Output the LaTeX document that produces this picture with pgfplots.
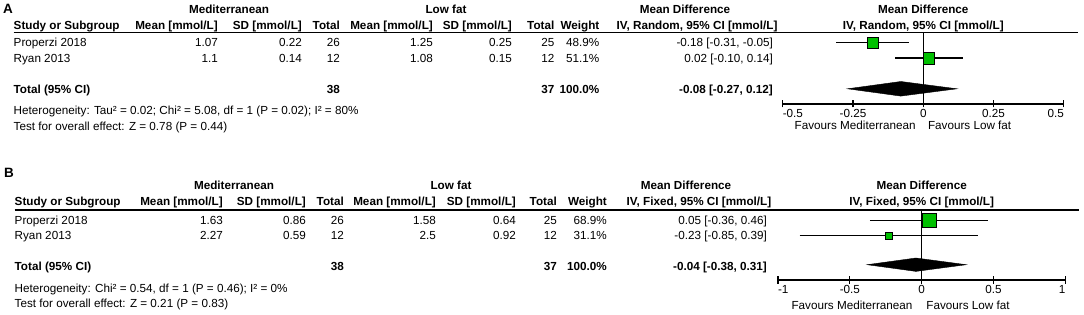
\documentclass[border=0pt]{standalone}
\usepackage{pgfplots}
\pgfplotsset{compat=1.18}
\usepackage{fontspec}
\setmainfont{Liberation Sans}
\definecolor{rmgreen}{RGB}{0,192,0}
\newcommand\fs{\fontsize{11.7}{14}\selectfont}
\newcommand\tl[3]{\node[anchor=base west,inner sep=0pt] at (#1,-#2) {#3};}
\newcommand\tr[3]{\node[anchor=base east,inner sep=0pt] at (#1,-#2) {#3};}
\newcommand\tc[3]{\node[anchor=base,inner sep=0pt] at (#1,-#2) {#3};}
\pgfplotsset{
  forest/.style={
    scale only axis, anchor=south west, clip=false,
    axis x line=bottom, axis y line=none,
    axis line style={-, line width=1.2pt, black},
    tick align=center, major tick length=7pt,
    x tick style={line width=1.2pt, black},
    xticklabel style={font=\fs, inner sep=0pt, anchor=north, yshift=-2pt},
  },
  ci/.style={black, line width=1.2pt, forget plot},
}
\begin{document}
\begin{tikzpicture}[x=1pt, y=1pt, font=\fs]
\useasboundingbox (0,0) rectangle (1084,-315);

% ================= Panel A =================
\node[anchor=base west,inner sep=0pt,font=\fontsize{13.5}{15}\selectfont\bfseries] at (3,-13.6) {A};
\begin{scope}[font=\fs\bfseries]
\tc{229}{14}{Mediterranean}
\tc{446}{14}{Low fat}
\tc{685}{14}{Mean Difference}
\tc{923.3}{14}{Mean Difference}
\tl{13.5}{29.5}{Study or Subgroup}
\tr{218}{29.5}{Mean [mmol/L]}
\tr{302}{29.5}{SD [mmol/L]}
\tr{340}{29.5}{Total}
\tr{433}{29.5}{Mean [mmol/L]}
\tr{512}{29.5}{SD [mmol/L]}
\tr{554.5}{29.5}{Total}
\tr{599.5}{29.5}{Weight}
\tc{697}{29.5}{IV, Random, 95\% CI [mmol/L]}
\tc{923.3}{29.5}{IV, Random, 95\% CI [mmol/L]}
\end{scope}
\draw[line width=1.3pt] (13.5,-32.5) -- (1078,-32.5);
\tl{13.5}{47}{Properzi 2018}
\tr{218}{47}{1.07}
\tr{302}{47}{0.22}
\tr{340}{47}{26}
\tr{433}{47}{1.25}
\tr{512}{47}{0.25}
\tr{554.5}{47}{25}
\tr{599.5}{47}{48.9\%}
\tr{773}{47}{-0.18 [-0.31, -0.05]}
\tl{13.5}{62.5}{Ryan 2013}
\tr{218}{62.5}{1.1}
\tr{302}{62.5}{0.14}
\tr{340}{62.5}{12}
\tr{433}{62.5}{1.08}
\tr{512}{62.5}{0.15}
\tr{554.5}{62.5}{12}
\tr{599.5}{62.5}{51.1\%}
\tr{773}{62.5}{0.02 [-0.10, 0.14]}
\begin{scope}[font=\fs\bfseries]
\tl{13.5}{94}{Total (95\% CI)}
\tr{340}{94}{38}
\tr{554.5}{94}{37}
\tr{599.5}{94}{100.0\%}
\tr{773}{94}{-0.08 [-0.27, 0.12]}
\end{scope}
\tl{13.5}{115}{Heterogeneity: Tau² = 0.02; Chi² = 5.08, df = 1 (P = 0.02); I² = 80\%}
\tl{13.5}{130.8}{Test for overall effect: Z = 0.78 (P = 0.44)}
\tr{915.8}{130}{Favours Mediterranean}
\tl{927.8}{130}{Favours Low fat}

\begin{axis}[forest,
  at={(782.8pt,-104pt)}, width=281pt, height=71.5pt,
  xmin=-0.5, xmax=0.5, ymin=-104, ymax=-32.5,
  xtick={-0.5,-0.25,0,0.25,0.5},
  xticklabels={\rlap{-0.5},-0.25,0,0.25,\llap{0.5}},
]
\addplot[ci] coordinates {(0,-32.5) (0,-104)};
\addplot[ci] coordinates {(-0.31,-42.5) (-0.05,-42.5)};
\addplot[ci] coordinates {(-0.10,-58) (0.14,-58)};
\addplot[only marks, mark=square*, mark size=5.5pt, mark options={draw=none, fill=rmgreen}] coordinates {(-0.18,-42.5)};
\addplot[only marks, mark=square*, mark size=5.75pt, mark options={draw=none, fill=rmgreen}] coordinates {(0.02,-58)};
\addplot[fill=black, draw=black, line width=0.4pt] coordinates {(-0.27,-88.8) (-0.08,-81.5) (0.12,-88.8) (-0.08,-96.1)} -- cycle;
\end{axis}

% ================= Panel B =================
\node[anchor=base west,inner sep=0pt,font=\fontsize{13.5}{15}\selectfont\bfseries] at (4,-177.3) {B};
\begin{scope}[font=\fs\bfseries]
\tc{234}{189.3}{Mediterranean}
\tc{451}{189.3}{Low fat}
\tc{686}{189.3}{Mean Difference}
\tc{921.7}{189.3}{Mean Difference}
\tl{14.5}{205.8}{Study or Subgroup}
\tr{223}{205.8}{Mean [mmol/L]}
\tr{306}{205.8}{SD [mmol/L]}
\tr{344}{205.8}{Total}
\tr{436}{205.8}{Mean [mmol/L]}
\tr{516}{205.8}{SD [mmol/L]}
\tr{557}{205.8}{Total}
\tr{607}{205.8}{Weight}
\tc{699}{205.8}{IV, Fixed, 95\% CI [mmol/L]}
\tc{921.7}{205.8}{IV, Fixed, 95\% CI [mmol/L]}
\end{scope}
\draw[line width=1.3pt] (14.5,-210) -- (1079,-210);
\tl{14.5}{224.5}{Properzi 2018}
\tr{223}{224.5}{1.63}
\tr{306}{224.5}{0.86}
\tr{344}{224.5}{26}
\tr{436}{224.5}{1.58}
\tr{516}{224.5}{0.64}
\tr{557}{224.5}{25}
\tr{607}{224.5}{68.9\%}
\tr{767}{224.5}{0.05 [-0.36, 0.46]}
\tl{14.5}{240}{Ryan 2013}
\tr{223}{240}{2.27}
\tr{306}{240}{0.59}
\tr{344}{240}{12}
\tr{436}{240}{2.5}
\tr{516}{240}{0.92}
\tr{557}{240}{12}
\tr{607}{240}{31.1\%}
\tr{767}{240}{-0.23 [-0.85, 0.39]}
\begin{scope}[font=\fs\bfseries]
\tl{14.5}{270}{Total (95\% CI)}
\tr{344}{270}{38}
\tr{557}{270}{37}
\tr{607}{270}{100.0\%}
\tr{767}{270}{-0.04 [-0.38, 0.31]}
\end{scope}
\tl{14.5}{292}{Heterogeneity: Chi² = 0.54, df = 1 (P = 0.46); I² = 0\%}
\tl{14.5}{307.5}{Test for overall effect: Z = 0.21 (P = 0.83)}
\tr{912.7}{309}{Favours Mediterranean}
\tl{926.2}{309}{Favours Low fat}

\begin{axis}[forest,
  at={(778pt,-280pt)}, width=287.4pt, height=70pt,
  xmin=-1, xmax=1, ymin=-280, ymax=-210,
  xtick={-1,-0.5,0,0.5,1},
  xticklabels={\rlap{-1},-0.5,0,0.5,\llap{1}},
]
\addplot[ci] coordinates {(0,-210) (0,-280)};
\addplot[ci] coordinates {(-0.36,-220.3) (0.46,-220.3)};
\addplot[ci] coordinates {(-0.85,-235.7) (0.39,-235.7)};
\addplot[only marks, mark=square*, mark size=7pt, mark options={draw=none, fill=rmgreen}] coordinates {(0.05,-220.3)};
\addplot[only marks, mark=square*, mark size=3.8pt, mark options={draw=none, fill=rmgreen}] coordinates {(-0.23,-235.7)};
\addplot[fill=black, draw=black, line width=0.4pt] coordinates {(-0.38,-264.7) (-0.04,-258) (0.31,-264.7) (-0.04,-271.4)} -- cycle;
\end{axis}
\end{tikzpicture}
\end{document}
